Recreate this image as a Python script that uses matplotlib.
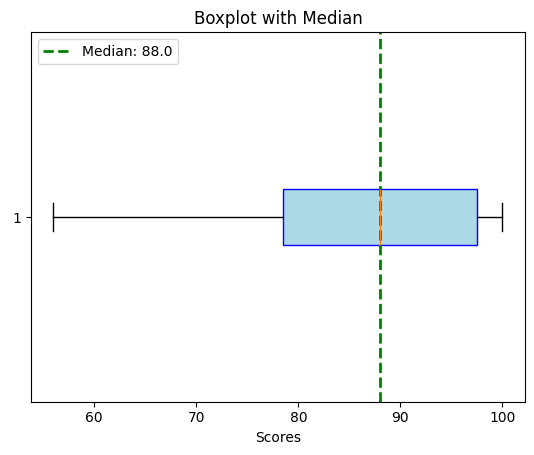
import matplotlib
matplotlib.use("Agg")
import matplotlib.pyplot as plt
import numpy as np

scores = [56, 78.5, 88, 97.5, 100]
median = float(np.median(scores))

fig, ax = plt.subplots(figsize=(5.34, 4.55), dpi=100)
fig.subplots_adjust(left=0.058, right=0.983, top=0.929, bottom=0.117)
ax.boxplot(scores, vert=False, patch_artist=True,
           boxprops=dict(facecolor='lightblue', edgecolor='blue'))
ax.axvline(median, color='green', linestyle='--', linewidth=2, label=f'Median: {median}')
ax.set_title('Boxplot with Median')
ax.set_xlabel('Scores')
ax.legend(loc='upper left')
fig.savefig('out.png')
